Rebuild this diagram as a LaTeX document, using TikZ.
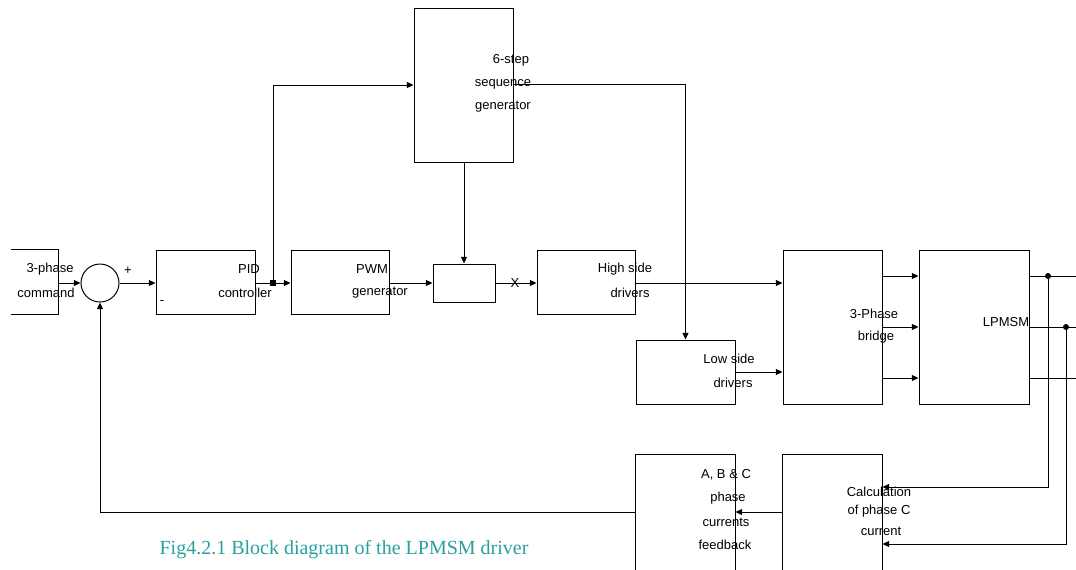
\documentclass[tikz,border=0pt]{standalone}
\usepackage{fontspec}
\setmainfont{Liberation Sans}
\newfontfamily\capfont{Liberation Serif}
\usetikzlibrary{arrows.meta,calc}
\definecolor{capteal}{RGB}{40,160,160}
\begin{document}
\begin{tikzpicture}[x=0.75pt,y=-0.75pt,
  line width=0.75pt,
  box/.style={draw,rectangle,inner sep=0pt,minimum width=74.25pt,minimum height=48pt},
  openbox/.style={rectangle,inner sep=0pt},
  lbl/.style={inner sep=0pt,font=\fontsize{9.75}{12}\selectfont},
  arr/.style={-{Triangle[length=5pt,width=4.5pt]}},
  dot/.style={circle,fill,inner sep=0pt,minimum size=4.5pt},
  sq/.style={rectangle,fill,inner sep=0pt,minimum size=4pt}]
\useasboundingbox (0,0) rectangle (1076,569);
\clip (0,0) rectangle (1076,569);
% blocks
\node[openbox,minimum width=35.25pt,minimum height=48pt] (cmd) at (34.5,282) {};
\draw (cmd.north west) -- (cmd.north east) -- (cmd.south east) -- (cmd.south west);
\node[draw,circle,inner sep=0pt,minimum size=28.5pt] (sum) at (100,283) {};
\node[box] (pid) at (205.5,282) {};
\node[box,minimum width=73.5pt] (pwm) at (340,282) {};
\node[box,minimum width=46.5pt,minimum height=28.5pt] (mix) at (464,283) {};
\node[box,minimum width=73.5pt] (high) at (586,282) {};
\node[box,minimum height=115.5pt] (seq) at (463.5,85) {};
\node[box] (low) at (685.5,372) {};
\node[box,minimum height=115.5pt] (bridge) at (832.5,327) {};
\node[box,minimum width=82.5pt,minimum height=115.5pt] (motor) at (974,327) {};
\node[openbox,minimum width=74.25pt,minimum height=90pt] (calc) at (832.5,515) {};
\draw (calc.south west) -- (calc.north west) -- (calc.north east) -- (calc.south east);
\node[openbox,minimum width=74.25pt,minimum height=90pt] (abc) at (685.5,515) {};
\draw (abc.south west) -- (abc.north west) -- (abc.north east) -- (abc.south east);
% labels
\node[lbl] (t1) at (50,269) {3-phase};
\node[lbl] (t2) at (46,293) {command};
\node[lbl] (tp) at (128,271) {+};
\node[lbl] (tm) at (162,303) {-};
\node[lbl] (t3) at (249,269) {PID};
\node[lbl] (t4) at (245,293) {controller};
\node[lbl] (t5) at (372,269) {PWM};
\node[lbl] (t6) at (380,293) {generator};
\node[lbl] (tx) at (515,283) {X};
\node[lbl] (t7) at (625,269) {High side};
\node[lbl] (t8) at (630,293) {drivers};
\node[lbl] (t9) at (511,60) {6-step};
\node[lbl] (t10) at (503,84) {sequence};
\node[lbl] (t11) at (503,107) {generator};
\node[lbl] (t12) at (729,359) {Low side};
\node[lbl] (t13) at (733,383) {drivers};
\node[lbl] (t14) at (874,314) {3-Phase};
\node[lbl] (t15) at (876,337) {bridge};
\node[lbl] (t16) at (1006,322) {LPMSM};
\node[lbl] (t17) at (879,492) {Calculation};
\node[lbl] (t18) at (879,511) {of phase C};
\node[lbl] (t19) at (881,531) {current};
\node[lbl] (t20) at (726,475) {A, B \& C};
\node[lbl] (t21) at (728,498) {phase};
\node[lbl] (t22) at (726,522) {currents};
\node[lbl] (t23) at (725,545) {feedback};
\node[inner sep=0pt,text=capteal,font=\capfont\fontsize{15}{17}\selectfont] (cap) at (344,550) {Fig4.2.1 Block diagram of the LPMSM driver};
% coordinates
\coordinate (j1) at (273,283);
\coordinate (r1) at (0,276);
\coordinate (r2) at (0,327);
\coordinate (r3) at (0,378);
\coordinate (r4) at (0,487);
\coordinate (r5) at (0,544);
\coordinate (r6) at (0,512);
\coordinate (d1) at (1048,276);
\coordinate (d2) at (1066,327);
\coordinate (e1) at (1080,276);
\coordinate (e2) at (1080,327);
\coordinate (e3) at (1080,378);
% connectors
\draw[arr] (cmd.east |- sum.west) -- (sum.west);
\draw[arr] (sum.east) -- (sum.east -| pid.west);
\draw (pid.east |- j1) -- (j1);
\draw[arr] (j1) -- (j1 -| pwm.west);
\draw[arr] (j1) |- (seq.west);
\node[sq] (jn) at (j1) {};
\draw[arr] (pwm.east |- mix.west) -- (mix.west);
\draw[arr] (mix.east) -- (mix.east -| high.west);
\draw[arr] (seq.south -| mix.north) -- (mix.north);
\draw[arr] (seq.east) ++(0,-1) -| (low.north);
\draw[arr] (high.east |- mix.east) -- (mix.east -| bridge.west);
\draw[arr] (low.east) -- (low.east -| bridge.west);
\draw[arr] (bridge.east |- r1) -- (motor.west |- r1);
\draw[arr] (bridge.east |- r2) -- (motor.west |- r2);
\draw[arr] (bridge.east |- r3) -- (motor.west |- r3);
\draw (motor.east |- r1) -- (e1);
\draw (motor.east |- r2) -- (e2);
\draw (motor.east |- r3) -- (e3);
\node[dot] (n1) at (d1) {};
\node[dot] (n2) at (d2) {};
\draw[arr] (d1) |- (calc.east |- r4);
\draw[arr] (d2) |- (calc.east |- r5);
\draw[arr] (calc.west |- r6) -- (abc.east |- r6);
\draw[arr] (abc.west |- r6) -| (sum.south);
\end{tikzpicture}
\end{document}
